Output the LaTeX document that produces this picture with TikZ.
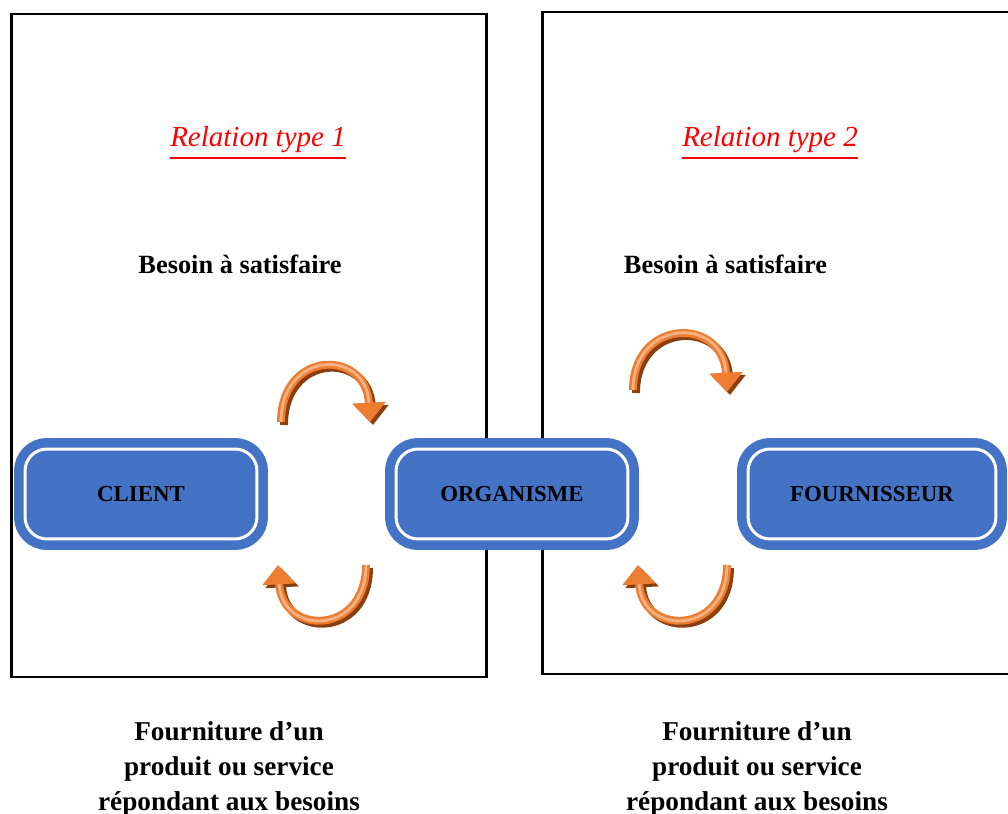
\documentclass[tikz,border=0pt]{standalone}
\usepackage{fontspec}
\setmainfont{Liberation Serif}
\usetikzlibrary{arrows.meta,positioning}

\definecolor{boxblue}{HTML}{4472C4}
\definecolor{arroworange}{HTML}{ED7D31}
\definecolor{arrowlight}{HTML}{F4B183}
\definecolor{arrowshadow}{HTML}{8B3E0F}

% a curved orange arrow with its shadow
\newcommand{\turnarrow}[1]{%
  \draw[turn shadow] #1;
  \draw[turn arrow] #1;
  \draw[turn light] #1;}

\begin{document}
\begin{tikzpicture}[x=0.02cm, y=-0.02cm,
	frame/.style = {draw, line width=1.7pt},
	actor/.style = {fill=boxblue, draw=white, line width=1.7pt,
	                rounded corners=12.5pt,
	                preaction={draw=boxblue, line width=12.5pt},
	                minimum width=4.64cm, minimum height=1.8cm,
	                font=\fontsize{13}{15}\selectfont\bfseries},
	reltitle/.style = {text=red, inner sep=0pt, font=\fontsize{16.5}{19}\selectfont\itshape},
	rule/.style = {draw=red, line width=1.1pt},
	need/.style = {font=\fontsize{15}{18}\selectfont\bfseries},
	supply/.style = {align=center, font=\fontsize{15.5}{20}\selectfont\bfseries},
	turn shadow/.style = {draw=arrowshadow, line width=4.5pt, shift={(3,3)},
	                      -{Triangle[width=18.5pt, length=11pt]}},
	turn arrow/.style = {draw=arroworange, line width=4.5pt,
	                     -{Triangle[width=18.5pt, length=11pt]}},
	turn light/.style = {draw=arrowlight, line width=1.6pt, shorten >=11pt}
	]
\useasboundingbox (0,0) rectangle (1008,814);

% the two relations
\draw[frame] (11.5,14) rectangle (486.5,677);
\draw[frame] (542.5,12) rectangle (1040,674);

\node[reltitle] (rel1) at (258,140) {Relation type 1};
\node[reltitle] (rel2) at (770,140) {Relation type 2};
\draw[rule] ([yshift=-2.5pt]rel1.south west) -- ([yshift=-2.5pt]rel1.south east);
\draw[rule] ([yshift=-2.5pt]rel2.south west) -- ([yshift=-2.5pt]rel2.south east);

\node[need] (need1) at (240,264) {Besoin à satisfaire};
\node[need] (need2) at (725.5,264) {Besoin à satisfaire};

% actors
\node[actor] (client) at (141,494) {CLIENT};
\node[actor] (orga) at (512,494) {ORGANISME};
\node[actor, minimum width=4.96cm] (fourn) at (872,494) {FOURNISSEUR};

% exchange arrows
\turnarrow{(281,422) .. controls (281,350) and (366,348) .. (370,422)}
\turnarrow{(366,565) .. controls (366,636) and (282,636) .. (278,565)}
\turnarrow{(633,390) .. controls (633,318) and (723,316) .. (727,392)}
\turnarrow{(727,565) .. controls (727,636) and (642,636) .. (638,565)}

\node[supply] (supply1) at (229,769) {Fourniture d’un\\produit ou service\\répondant aux besoins};
\node[supply] (supply2) at (757,769) {Fourniture d’un\\produit ou service\\répondant aux besoins};
\end{tikzpicture}
\end{document}
